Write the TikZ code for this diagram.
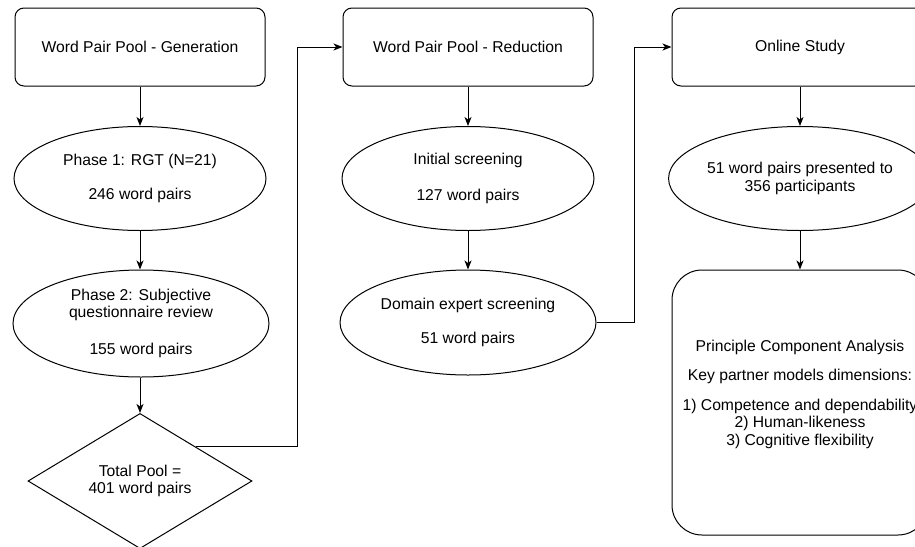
\documentclass[tikz,border=0pt]{standalone}
\usepackage{fontspec}
\setmainfont{Liberation Sans}
\usetikzlibrary{shapes.geometric,arrows.meta}
\begin{document}
\begin{tikzpicture}[x=1pt,y=-1pt,
  every node/.style={font=\fontsize{15.7}{17.5}\selectfont, align=center, inner sep=0pt},
  stage/.style={draw, line width=1pt, rounded corners=9pt, minimum width=250pt, minimum height=78pt},
  oval/.style={draw, line width=1pt, ellipse, minimum width=252pt, minimum height=104pt},
  decision/.style={draw, line width=1pt, diamond, minimum width=224pt, minimum height=128pt},
  result/.style={draw, line width=1pt, rounded corners=30pt, minimum width=256pt, minimum height=265pt},
  arr/.style={-{Stealth[length=9pt,width=7pt,inset=2.5pt]}, line width=1pt},
  link/.style={line width=1pt}]
\useasboundingbox (0,0) rectangle (915,546);
% column 1
\node[stage] (b1) at (140,47) {Word Pair Pool - Generation};
\node[oval] (e1) at (140,178.5) {Phase 1: RGT (N=21)\\[16.5pt]246 word pairs};
\node[oval, minimum width=256pt, minimum height=107pt] (e2) at (141,323.5) {Phase 2: Subjective\\questionnaire review\\[19.5pt]155 word pairs};
\node[decision] (d) at (140,481) {Total Pool =\\401 word pairs};
% column 2
\node[stage] (b2) at (468,47) {Word Pair Pool - Reduction};
\node[oval] (e3) at (468,178.5) {Initial screening\\[18.5pt]127 word pairs};
\node[oval, minimum width=256pt, minimum height=105pt] (e4) at (468,322.5) {Domain expert screening\\[16.5pt]51 word pairs};
% column 3
\node[stage, minimum width=256pt] (b3) at (800,47) {Online Study};
\node[oval, minimum width=256pt] (e5) at (800,178.5) {51 word pairs presented to\\356 participants};
\node[result] (b4) at (800,402.5) {};
\node (b4t) at (800,394) {Principle Component Analysis\\[11.5pt]Key partner models dimensions:\\[12.5pt]1) Competence and dependability\\2) Human-likeness\\3) Cognitive flexibility};
% junctions
\coordinate (j1) at (297,47);
\coordinate (j2) at (634,47);
% connectors
\draw[arr] (b1) -- (e1);
\draw[arr] (e1.south) -- (e1.south |- e2.north);
\draw[arr] (e1.south |- e2.south) -- (d.north);
\draw[link] (d.north east) -| (j1);
\draw[arr] (j1) -- (b2.west);
\draw[arr] (b2) -- (e3);
\draw[arr] (e3) -- (e4);
\draw[link] (e4.east) -| (j2);
\draw[arr] (j2) -- (b3.west);
\draw[arr] (b3) -- (e5);
\draw[arr] (e5) -- (b4);
\end{tikzpicture}
\end{document}
